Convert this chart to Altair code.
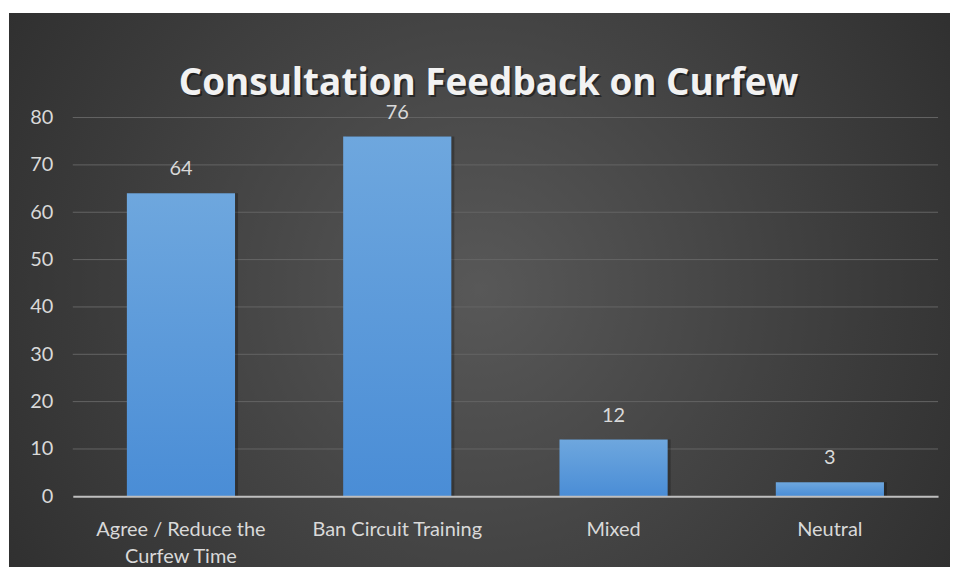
import altair as alt
import pandas as pd

title_text = "Consultation Feedback on Curfew"
categories = ["Agree / Reduce the Curfew Time", "Ban Circuit Training", "Mixed", "Neutral"]
values = [64, 76, 12, 3]
grid_values = [10, 20, 30, 40, 50, 60, 70, 80]

df = pd.DataFrame({"category": categories, "value": values})
grid_df = pd.DataFrame({"g": grid_values})
one_df = pd.DataFrame({"t": [title_text]})

W, H = 868, 380
PAD_L, PAD_T, PAD_R, PAD_B = 65, 109, 12, 71

x_enc = alt.X("category:N", sort=categories, title=None,
              scale=alt.Scale(paddingInner=0.5, paddingOuter=0.25),
              axis=alt.Axis(labelAngle=0, ticks=False, grid=False, domain=True,
                            domainColor="#bfbfbf", domainWidth=2,
                            labelColor="#d9d9d9", labelFont="Lato", labelFontSize=20,
                            labelPadding=23, labelLineHeight=27, zindex=1,
                            labelExpr="datum.label == 'Agree / Reduce the Curfew Time' ? ['Agree / Reduce the', 'Curfew Time'] : datum.label"))
y_enc = alt.Y("value:Q", title=None,
              scale=alt.Scale(domain=[0, 80], nice=False),
              axis=alt.Axis(values=[0, 10, 20, 30, 40, 50, 60, 70, 80], ticks=False, grid=False,
                            domain=False, labelColor="#d9d9d9", labelFont="Lato",
                            labelFontSize=20, labelPadding=20, zindex=1))

bg = alt.Chart(one_df).mark_rect(
    color=alt.RadialGradient(
        gradient="radial",
        stops=[alt.GradientStop(color="#585858", offset=0),
               alt.GradientStop(color="#3b3b3b", offset=0.55),
               alt.GradientStop(color="#252525", offset=1)],
        x1=0.5, y1=0.5, x2=0.5, y2=0.5, r1=0, r2=0.75)
).encode(x=alt.value(-64), x2=alt.value(W + PAD_R), y=alt.value(-105), y2=alt.value(H + PAD_B))

title_shadow = alt.Chart(one_df).mark_text(
    font="Open Sans", fontSize=37, fontWeight="bold", color="#000000", opacity=0.45,
    baseline="alphabetic", align="center", dx=2, dy=2
).encode(x=alt.value(W / 2 - 17), y=alt.value(-23), text="t:N")

title = alt.Chart(one_df).mark_text(
    font="Open Sans", fontSize=37, fontWeight="bold", color="#f2f2f2",
    baseline="alphabetic", align="center"
).encode(x=alt.value(W / 2 - 17), y=alt.value(-23), text="t:N")

grid = alt.Chart(grid_df).mark_rule(color="#646464", strokeWidth=1).encode(
    y=alt.Y("g:Q", scale=alt.Scale(domain=[0, 80], nice=False))
)

shadow = alt.Chart(df).mark_bar(color="#000000", opacity=0.25, xOffset=3).encode(x=x_enc, y=y_enc)

bars = alt.Chart(df).mark_bar(
    color=alt.LinearGradient(
        gradient="linear",
        stops=[alt.GradientStop(color="#6ea7de", offset=0),
               alt.GradientStop(color="#4a8dd6", offset=1)],
        x1=0, x2=0, y1=0, y2=1)
).encode(x=x_enc, y=y_enc)

labels = alt.Chart(df).mark_text(
    dy=-18, baseline="alphabetic", color="#d9d9d9", font="Lato", fontSize=20
).encode(x=x_enc, y=y_enc, text="value:Q")

chart = alt.layer(bg, title_shadow, title, grid, shadow, bars, labels).properties(
    width=W, height=H,
    autosize=alt.AutoSizeParams(type="none"),
    padding={"left": PAD_L, "top": PAD_T, "right": PAD_R, "bottom": PAD_B},
).configure(background="white").configure_view(stroke=None)

chart.save("out.html", embed_options={"renderer": "svg", "actions": False})
